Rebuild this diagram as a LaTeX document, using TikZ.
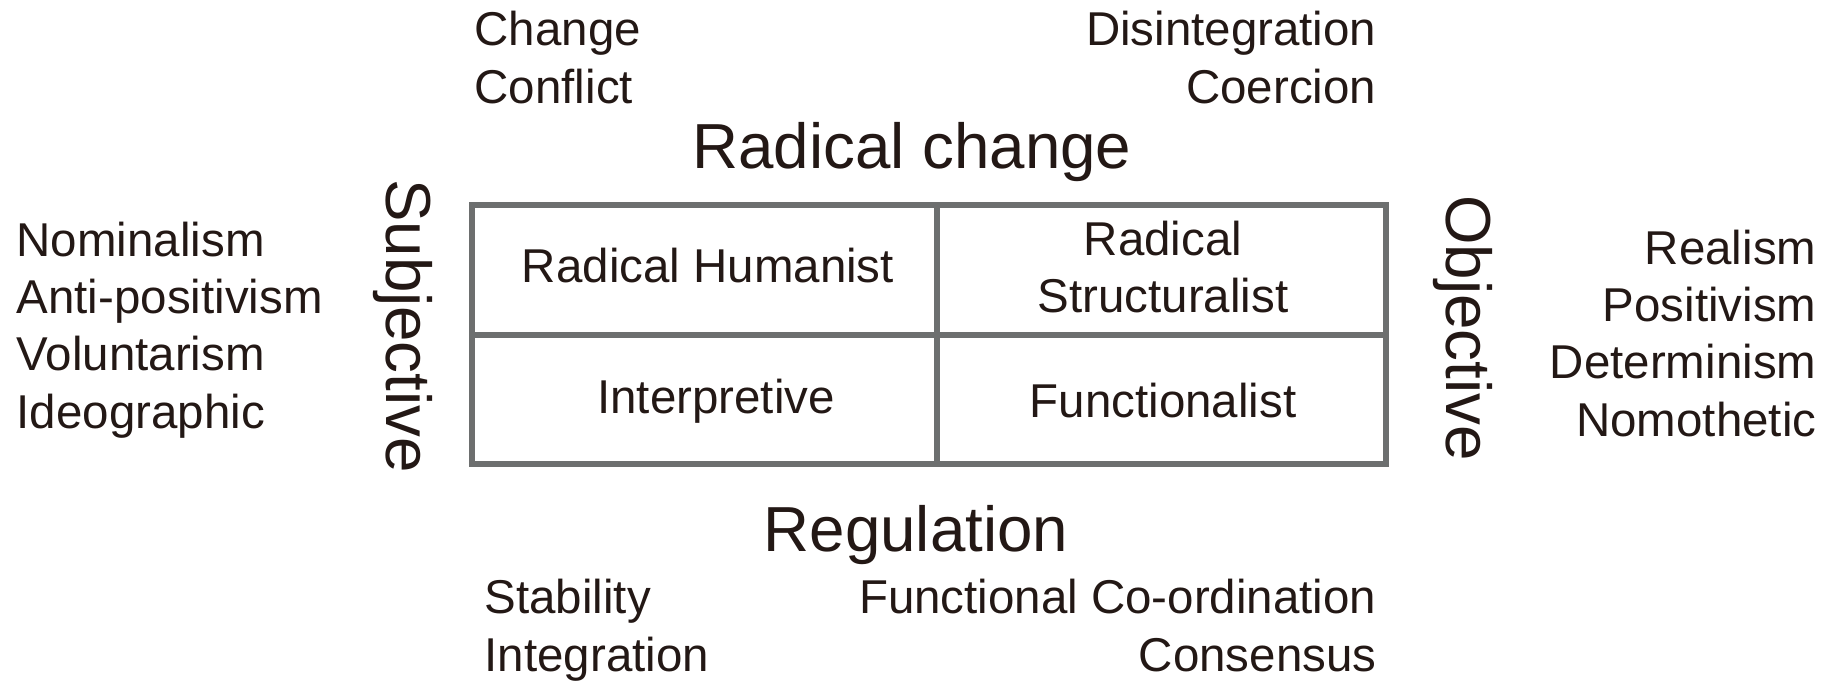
\documentclass[tikz,border=0pt]{standalone}
\usepackage{fontspec}
\setmainfont{Liberation Sans}
\usepackage{xcolor}
\usetikzlibrary{positioning}
\definecolor{inkdark}{HTML}{231815}
\definecolor{gridgray}{HTML}{6D6F6F}

\begin{document}
\begin{tikzpicture}[
    x=0.01cm, y=-0.01cm,
    every node/.style={text=inkdark, inner sep=0pt},
    small/.style={font=\fontsize{13.5}{16.3}\selectfont},
    big/.style={font=\fontsize{18.1}{20}\selectfont},
    cell/.style={small, align=center},
    gridline/.style={draw=gridgray, line width=1.7pt}
]
    \useasboundingbox (0,0) rectangle (1837,681);

    % The four paradigms
    \draw[gridline] (472,205) rectangle (1386,464);
    \draw[gridline] (937,205) -- (937,464);
    \draw[gridline] (472,335) -- (1386,335);

    \node[cell] (humanist) at (708,266) {Radical Humanist};
    \node[cell] (structuralist) at (1163,267) {Radical\\Structuralist};
    \node[cell] (interpretive) at (716,401) {Interpretive};
    \node[cell] (functionalist) at (1163,401) {Functionalist};

    % Axis titles
    \node[big, anchor=base] (radical) at (912,168) {Radical change};
    \node[big, anchor=base] (regulation) at (916,551) {Regulation};
    \node[big, rotate=-90] (subjective) at (403,326) {Subjective};
    \node[big, rotate=-90] (objective) at (1463,328) {Objective};

    % Assumptions on each side (base = last line)
    \node[small, anchor=base west, align=left] (changeset) at (474,103) {Change\\Conflict};
    \node[small, anchor=base east, align=right] (coercset) at (1377,103) {Disintegration\\Coercion};
    \node[small, anchor=base west, align=left] (stableset) at (484,671) {Stability\\Integration};
    \node[small, anchor=base east, align=right] (consensusset) at (1377,671) {Functional Co-ordination\\Consensus};
    \node[small, anchor=base west, align=left] (subjset) at (16,428)
        {Nominalism\\Anti-positivism\\Voluntarism\\Ideographic};
    \node[small, anchor=base east, align=right] (objset) at (1817,436)
        {Realism\\Positivism\\Determinism\\Nomothetic};
\end{tikzpicture}
\end{document}
